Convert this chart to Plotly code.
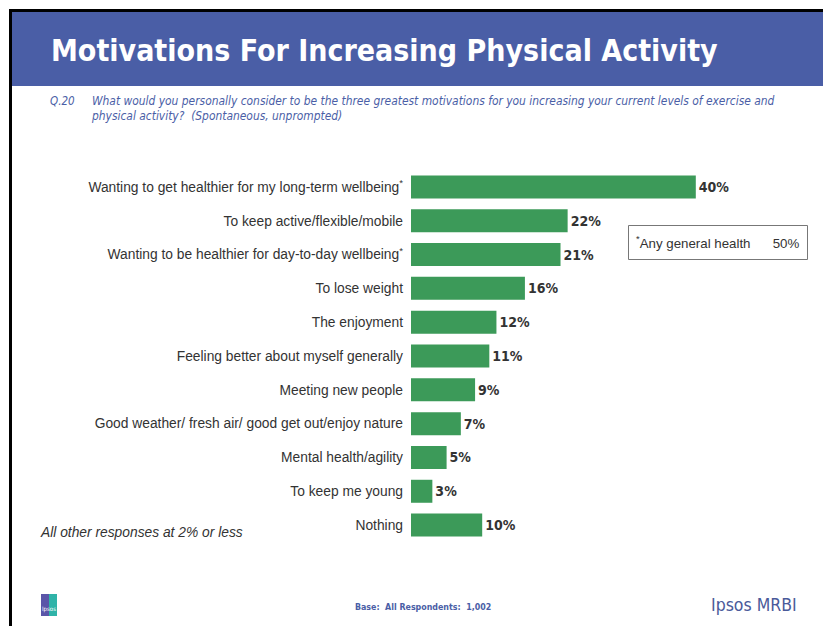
import plotly.graph_objects as go

# Survey responses (top-to-bottom order as shown)
categories = [
    "Wanting to get healthier for my long-term wellbeing<sup>*</sup>",
    "To keep active/flexible/mobile",
    "Wanting to be healthier for day-to-day wellbeing<sup>*</sup>",
    "To lose weight",
    "The enjoyment",
    "Feeling better about myself generally",
    "Meeting new people",
    "Good weather/ fresh air/ good get out/enjoy nature",
    "Mental health/agility",
    "To keep me young",
    "Nothing",
]
values = [40, 22, 21, 16, 12, 11, 9, 7, 5, 3, 10]

W, H = 823, 626
BLUE = "#4a5ea6"
GREEN = "#3c9a59"
TEXT_BLUE = "#4a5ea6"
NARROW = "DejaVu Sans Condensed, Liberation Sans, sans-serif"
SANS = "Liberation Sans, Arial, sans-serif"


def px(x):
    return x / W


def py(y):
    return 1 - y / H


fig = go.Figure(
    go.Bar(
        x=values,
        y=categories,
        orientation="h",
        marker=dict(color=GREEN, line=dict(width=0)),
        width=0.68,
        texttemplate="<b>%{x}%</b>",
        textposition="outside",
        textfont=dict(family=NARROW, size=14, color="#333333"),
        cliponaxis=False,
        hoverinfo="skip",
    )
)

shapes = [
    # header band
    dict(type="rect", xref="paper", yref="paper", x0=px(12), x1=px(W), y0=py(86), y1=py(12),
         fillcolor=BLUE, line=dict(width=0), layer="below"),
    # black frame, top and left
    dict(type="rect", xref="paper", yref="paper", x0=px(9), x1=px(W), y0=py(12), y1=py(9),
         fillcolor="black", line=dict(width=0)),
    dict(type="rect", xref="paper", yref="paper", x0=px(9), x1=px(12), y0=py(H), y1=py(9),
         fillcolor="black", line=dict(width=0)),
    # general-health note box
    dict(type="rect", xref="paper", yref="paper", x0=px(628.5), x1=px(807.5), y0=py(259.5), y1=py(225.5),
         fillcolor="white", line=dict(color="#777777", width=1)),
    # logo square
    dict(type="rect", xref="paper", yref="paper", x0=px(41), x1=px(49), y0=py(616), y1=py(594),
         fillcolor="#5a55a8", line=dict(width=0)),
    dict(type="rect", xref="paper", yref="paper", x0=px(49), x1=px(57), y0=py(616), y1=py(594),
         fillcolor="#2fb3a8", line=dict(width=0)),
]


def note(text, x, y, xanchor="left", **font):
    return dict(text=text, x=px(x), y=py(y), xref="paper", yref="paper",
                xanchor=xanchor, yanchor="middle", align="left", showarrow=False, font=font)


annotations = [
    note("<b>Motivations For Increasing Physical Activity</b>", 49, 50,
         family=NARROW, size=30, color="white"),
    note("<i>Q.20</i>", 48, 101, family=NARROW, size=11.5, color=TEXT_BLUE),
    note("<i>What would you personally consider to be the three greatest motivations for you increasing "
         "your current levels of exercise and<br>physical activity?  (Spontaneous, unprompted)</i>",
         89, 108, family=NARROW, size=11.9, color=TEXT_BLUE),
    note("<sup>*</sup>Any general health      50%", 634, 242.5, family=SANS, size=13.3, color="#333333"),
    note("<i>All other responses at 2% or less</i>", 38, 532, family=SANS, size=13.8, color="#333333"),
    note("<b>Base:  All Respondents:  1,002</b>", 353, 607, family=NARROW, size=8.8, color=TEXT_BLUE),
    note("Ipsos MRBI", 799, 605, xanchor="right", family=NARROW, size=17.5, color="#4a5a9a"),
    note("Ipsos", 49, 609, xanchor="center", family=NARROW, size=6, color="white"),
]

fig.update_layout(
    width=W,
    height=H,
    margin=dict(l=0, r=0, t=0, b=0),
    paper_bgcolor="white",
    plot_bgcolor="rgba(0,0,0,0)",
    showlegend=False,
    xaxis=dict(domain=[px(411), px(767)], range=[0, 50], visible=False, fixedrange=True),
    yaxis=dict(
        domain=[py(542), py(170)],
        autorange="reversed",
        showgrid=False,
        zeroline=False,
        showline=False,
        ticks="",
        ticklabelstandoff=7,
        tickfont=dict(family=SANS, size=13.8, color="#333333"),
        fixedrange=True,
    ),
    shapes=shapes,
    annotations=annotations,
)

fig.write_html("out.html")
